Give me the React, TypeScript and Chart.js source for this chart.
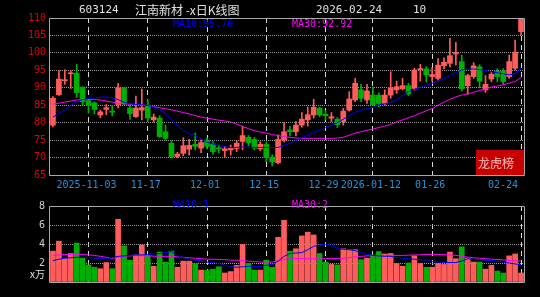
import React, { useEffect, useRef } from 'react';
import { Chart, registerables } from 'chart.js';

Chart.register(...registerables);

const dates: string[] = [
  '2025-10-24', '2025-10-27', '2025-10-28', '2025-10-29', '2025-10-30', '2025-10-31',
  '2025-11-03', '2025-11-04', '2025-11-05', '2025-11-06', '2025-11-07',
  '2025-11-10', '2025-11-11', '2025-11-12', '2025-11-13', '2025-11-14',
  '2025-11-17', '2025-11-18', '2025-11-19', '2025-11-20', '2025-11-21',
  '2025-11-24', '2025-11-25', '2025-11-26', '2025-11-27', '2025-11-28',
  '2025-12-01', '2025-12-02', '2025-12-03', '2025-12-04', '2025-12-05',
  '2025-12-08', '2025-12-09', '2025-12-10', '2025-12-11', '2025-12-12',
  '2025-12-15', '2025-12-16', '2025-12-17', '2025-12-18', '2025-12-19',
  '2025-12-22', '2025-12-23', '2025-12-24', '2025-12-25', '2025-12-26',
  '2025-12-29', '2025-12-30', '2025-12-31',
  '2026-01-05', '2026-01-06', '2026-01-07', '2026-01-08', '2026-01-09',
  '2026-01-12', '2026-01-13', '2026-01-14', '2026-01-15', '2026-01-16',
  '2026-01-19', '2026-01-20', '2026-01-21', '2026-01-22', '2026-01-23',
  '2026-01-26', '2026-01-27', '2026-01-28', '2026-01-29', '2026-01-30',
  '2026-02-02', '2026-02-03', '2026-02-04', '2026-02-05', '2026-02-06',
  '2026-02-09', '2026-02-10', '2026-02-11', '2026-02-12', '2026-02-13',
  '2026-02-24',
];

const open: number[] = [
  79.3, 88.0, 92.0, 94.0, 94.2, 90.1, 86.3, 85.7, 82.2, 83.8,
  83.3, 85.2, 90.0, 84.2, 81.7, 83.6, 85.0, 80.8, 81.3, 77.4,
  74.1, 70.3, 71.2, 72.4, 73.8, 72.7, 75.0, 73.9, 72.8, 72.0,
  72.2, 72.6, 74.6, 75.8, 75.2, 72.5, 73.8, 70.1, 68.5, 75.0,
  77.9, 77.4, 79.3, 80.8, 82.2, 84.1, 82.4, 81.3, 81.0, 80.3,
  83.6, 86.5, 89.4, 86.5, 87.9, 87.9, 85.5, 87.9, 89.4, 89.7,
  90.6, 89.8, 95.2, 95.4, 93.2, 92.7, 96.3, 97.0, 99.7, 97.5,
  90.6, 93.2, 96.0, 89.4, 92.5, 94.7, 94.8, 93.2, 95.6, 106.1,
];
const high: number[] = [
  87.5, 95.0, 95.2, 95.0, 96.7, 90.3, 86.5, 86.0, 83.6, 85.2,
  85.0, 91.3, 90.0, 85.5, 87.6, 89.6, 86.5, 82.5, 82.0, 79.3,
  74.8, 71.5, 75.7, 75.2, 77.0, 75.1, 75.6, 74.6, 73.6, 73.2,
  73.6, 74.8, 79.0, 76.3, 75.8, 74.5, 74.5, 70.8, 76.5, 80.0,
  78.9, 80.3, 82.9, 84.5, 86.7, 84.4, 83.5, 82.9, 81.5, 84.1,
  88.9, 92.7, 91.0, 91.0, 90.3, 88.5, 89.4, 94.6, 91.9, 92.7,
  91.3, 95.6, 96.7, 96.1, 95.8, 98.4, 98.6, 104.2, 103.0, 99.4,
  93.9, 97.2, 96.6, 93.5, 94.4, 95.5, 95.5, 99.4, 103.7, 110.22,
];
const low: number[] = [
  78.8, 87.8, 91.0, 89.8, 87.2, 85.0, 82.7, 82.5, 81.4, 82.3,
  82.0, 84.2, 85.2, 80.9, 81.5, 80.8, 80.3, 80.2, 75.8, 75.0,
  70.0, 70.0, 70.5, 70.7, 72.2, 71.4, 72.5, 71.0, 71.3, 70.1,
  70.7, 71.7, 72.2, 73.4, 72.2, 72.0, 68.8, 67.6, 68.2, 74.5,
  76.2, 76.2, 78.7, 79.0, 81.3, 81.7, 80.8, 80.3, 78.6, 79.3,
  83.3, 86.0, 86.0, 85.5, 84.9, 84.6, 84.9, 87.0, 88.4, 89.4,
  87.8, 89.3, 91.9, 91.7, 91.8, 92.2, 95.4, 96.0, 96.5, 89.1,
  88.1, 92.7, 90.0, 88.7, 91.7, 91.7, 91.0, 92.7, 95.1, 105.1,
];
const close: number[] = [
  87.0, 92.5, 92.3, 94.3, 88.6, 86.0, 85.0, 83.8, 83.1, 84.3,
  83.0, 90.0, 85.4, 82.6, 84.2, 84.3, 81.3, 81.6, 76.0, 75.5,
  70.1, 71.0, 73.4, 73.5, 73.2, 74.3, 73.2, 71.7, 72.5, 72.5,
  72.6, 74.1, 76.3, 74.3, 72.7, 73.8, 70.0, 68.8, 75.2, 77.4,
  77.4, 79.3, 81.0, 82.3, 84.4, 82.2, 82.0, 81.7, 79.4, 83.3,
  86.8, 91.3, 87.0, 89.1, 85.1, 85.5, 87.9, 90.0, 90.3, 90.6,
  88.2, 95.1, 95.5, 93.7, 93.8, 96.5, 97.3, 99.2, 100.1, 89.7,
  93.5, 96.3, 91.9, 91.0, 93.9, 93.2, 91.8, 97.5, 100.2, 110.22,
];

const ma10: number[] = [
  81.6, 82.6, 83.6, 84.9, 86.0, 86.6, 86.9, 87.0, 87.3, 87.4,
  87.1, 86.6, 85.8, 85.4, 85.2, 85.1, 84.9, 84.5, 83.6, 82.5,
  81.0, 79.3, 77.8, 76.8, 76.3, 75.3, 74.4, 73.9, 73.4, 73.1,
  72.9, 72.9, 73.0, 73.0, 72.9, 72.9, 72.9, 72.9, 72.9, 73.5,
  74.1, 74.9, 75.7, 76.5, 77.2, 77.9, 78.6, 79.3, 80.0, 81.0,
  82.0, 83.0, 83.6, 84.0, 84.4, 85.1, 85.4, 85.9, 86.5, 87.8,
  88.9, 89.6, 90.1, 90.6, 91.3, 91.9, 92.6, 93.5, 94.4, 95.1,
  95.3, 95.4, 95.2, 94.9, 94.6, 94.3, 94.0, 93.7, 94.0, 95.70,
];
const ma30: number[] = [
  85.3, 85.6, 85.9, 86.2, 86.5, 86.6, 86.6, 86.6, 86.5, 86.2,
  85.9, 85.6, 85.4, 85.3, 85.2, 85.1, 84.9, 84.6, 84.3, 84.0,
  83.7, 83.3, 82.9, 82.5, 82.0, 81.6, 81.3, 81.0, 80.7, 80.5,
  80.2, 79.6, 78.9, 78.3, 77.7, 77.3, 77.0, 76.6, 76.3, 76.0,
  75.8, 75.6, 75.5, 75.5, 75.5, 75.5, 75.5, 75.5, 75.6, 75.8,
  76.4, 77.0, 77.4, 77.8, 78.2, 78.6, 79.0, 79.5, 80.2, 80.8,
  81.4, 82.0, 82.7, 83.4, 84.0, 85.0, 85.9, 86.7, 87.4, 87.9,
  88.3, 88.7, 89.2, 89.7, 90.2, 90.5, 90.9, 91.3, 91.8, 92.92,
];

const volume: number[] = [
  3.25, 4.3, 2.5, 3.0, 4.1, 2.5, 1.8, 1.55, 1.4, 2.05,
  1.4, 6.6, 3.8, 2.3, 2.85, 3.9, 2.75, 1.65, 3.15, 2.1,
  3.25, 1.55, 2.2, 2.2, 1.95, 1.25, 1.25, 1.35, 1.6, 0.95,
  1.1, 1.75, 3.95, 1.95, 1.25, 1.25, 2.3, 1.55, 4.7, 6.5,
  3.25, 3.5, 4.85, 5.25, 4.95, 3.0, 2.1, 1.85, 1.8, 3.5,
  3.4, 3.4, 2.35, 2.5, 2.85, 3.2, 2.95, 3.0, 1.95, 1.65,
  2.0, 2.75, 1.95, 1.55, 1.55, 1.95, 1.85, 3.15, 2.45, 3.7,
  2.5, 2.1, 2.1, 1.35, 1.75, 1.15, 0.95, 2.75, 2.95, 0.95,
];
const volMa10: number[] = [
  2.25, 2.4, 2.5, 2.55, 2.6, 2.6, 2.55, 2.5, 2.45, 2.45,
  2.55, 2.7, 2.75, 2.8, 2.85, 2.85, 2.9, 2.95, 3.0, 3.1,
  3.2, 2.75, 2.55, 2.4, 2.3, 2.2, 2.1, 2.05, 1.95, 1.8,
  1.6, 1.55, 1.6, 1.65, 1.65, 1.65, 1.75, 1.85, 2.2, 2.7,
  3.0, 3.05, 3.1, 3.4, 3.75, 3.9, 3.95, 4.0, 3.5, 3.45,
  3.4, 3.3, 3.1, 2.9, 2.8, 2.75, 2.7, 2.7, 2.6, 2.5,
  2.45, 2.4, 2.35, 2.3, 2.15, 2.1, 2.05, 2.05, 2.05, 2.2,
  2.45, 2.4, 2.35, 2.3, 2.25, 2.2, 2.1, 2.0, 1.9, 1.8,
];
const volMa30: number[] = [
  2.8, 2.85, 2.9, 2.9, 2.9, 2.9, 2.85, 2.8, 2.7, 2.6,
  2.45, 2.65, 2.7, 2.75, 2.77, 2.77, 2.75, 2.72, 2.7, 2.7,
  2.7, 2.65, 2.6, 2.55, 2.5, 2.45, 2.4, 2.4, 2.38, 2.35,
  2.3, 2.3, 2.25, 2.2, 2.15, 2.1, 2.1, 2.1, 2.2, 2.35,
  2.5, 2.48, 2.46, 2.45, 2.45, 2.45, 2.45, 2.46, 2.48, 2.5,
  2.55, 2.65, 2.7, 2.75, 2.75, 2.77, 2.78, 2.8, 2.8, 2.8,
  2.82, 2.85, 2.87, 2.9, 2.9, 2.9, 2.88, 2.85, 2.8, 2.7,
  2.62, 2.55, 2.5, 2.45, 2.4, 2.38, 2.32, 2.27, 2.22, 2.2,
];

const xTickDates: string[] = [
  '2025-11-03', '2025-11-17', '2025-12-01', '2025-12-15',
  '2025-12-29', '2026-01-12', '2026-01-26', '2026-02-24',
];
const xTickLabels: string[] = [
  '2025-11-03', '11-17', '12-01', '12-15', '12-29', '2026-01-12', '01-26', '02-24',
];

const stockCode = '603124';
const stockName = '江南新材 -x日K线图';
const currentDate = '2026-02-24';
const period = '10';
const priceMaLabels: string[] = ['MA10:95.70', 'MA30:92.92'];
const volMaLabels: string[] = ['MA10:1', 'MA30:2'];
const volUnit = 'x万';
const badgeText = '龙虎榜';

const UP = '#ff5c5c';
const DOWN = '#00b000';
const MONO = "'DejaVu Sans Mono', monospace";
const CJK = "'Noto Sans CJK SC', 'DejaVu Sans Mono', sans-serif";

const tickIdx = xTickDates.map((d) => dates.indexOf(d));
const candleColor = dates.map((_, i) => (close[i] >= open[i] ? UP : DOWN));

function xAxisOptions() {
  return {
    type: 'category' as const,
    offset: true,
    grid: {
      offset: false,
      drawTicks: false,
      lineWidth: 1,
      color: (c: any) => (tickIdx.includes(c.index) ? '#d8d8d8' : 'rgba(0,0,0,0)'),
    },
    border: { display: false, dash: [5, 4] },
    ticks: { display: false, autoSkip: false },
  };
}

const framePlugin = {
  id: 'frame',
  afterDraw(chart: any) {
    const { ctx, chartArea: a } = chart;
    ctx.save();
    ctx.strokeStyle = '#a8a8a8';
    ctx.lineWidth = 1;
    ctx.beginPath();
    ctx.moveTo(a.left - 0.5, a.bottom + 0.5);
    ctx.lineTo(a.left - 0.5, a.top + 0.5);
    ctx.lineTo(a.right + 0.5, a.top + 0.5);
    ctx.lineTo(a.right + 0.5, a.bottom + 0.5);
    ctx.lineTo(a.left - 0.5, a.bottom + 0.5);
    ctx.stroke();
    ctx.restore();
  },
};

const priceTextPlugin = {
  id: 'priceText',
  afterDraw(chart: any) {
    const { ctx } = chart;
    const xs = chart.scales.x;
    ctx.save();
    ctx.textBaseline = 'middle';
    ctx.textAlign = 'left';
    // title
    ctx.fillStyle = '#e0e0e0';
    ctx.font = `11px ${MONO}`;
    ctx.fillText(stockCode, 79, 10);
    ctx.font = `12px ${CJK}`;
    ctx.fillText(stockName, 135, 10);
    ctx.font = `11px ${MONO}`;
    ctx.fillText(currentDate, 316, 10);
    ctx.fillText(period, 413, 10);
    // MA labels
    ctx.font = `10px ${MONO}`;
    ctx.fillStyle = '#0000ff';
    ctx.fillText(priceMaLabels[0], 173, 24);
    ctx.fillStyle = '#ff00ff';
    ctx.fillText(priceMaLabels[1], 292, 24);
    // x labels
    ctx.fillStyle = '#2a8fd8';
    ctx.font = `10px ${MONO}`;
    xTickLabels.forEach((lab, k) => {
      const px = xs.getPixelForValue(tickIdx[k]);
      if (k === xTickLabels.length - 1) {
        ctx.textAlign = 'right';
        ctx.fillText(lab, px - 3, 185);
      } else {
        ctx.textAlign = 'center';
        ctx.fillText(lab, px - 2, 185);
      }
    });
    // badge
    const a = chart.chartArea;
    ctx.fillStyle = '#c80000';
    ctx.fillRect(a.right - 48, a.bottom - 25, 48, 25);
    ctx.fillStyle = '#f2c0c0';
    ctx.textAlign = 'left';
    ctx.font = `12px ${CJK}`;
    ctx.fillText(badgeText, a.right - 46, a.bottom - 12);
    ctx.restore();
  },
};

const volTextPlugin = {
  id: 'volText',
  afterDraw(chart: any) {
    const { ctx } = chart;
    const ys = chart.scales.y;
    ctx.save();
    ctx.textBaseline = 'middle';
    ctx.textAlign = 'left';
    ctx.font = `10px ${MONO}`;
    ctx.fillStyle = '#0000ff';
    ctx.fillText(volMaLabels[0], 173, 10);
    ctx.fillStyle = '#ff00ff';
    ctx.fillText(volMaLabels[1], 292, 10);
    ctx.fillStyle = '#e0e0e0';
    ctx.textAlign = 'right';
    ctx.font = `10px ${CJK}`;
    ctx.fillText(volUnit, 45, ys.getPixelForValue(0) - 8);
    ctx.restore();
  },
};

export default function App() {
  const topRef = useRef<HTMLCanvasElement>(null);
  const botRef = useRef<HTMLCanvasElement>(null);

  useEffect(() => {
    document.body.style.margin = '0';
    document.body.style.background = '#000';
    Chart.defaults.font.family = MONO;

    const top = new Chart(topRef.current as HTMLCanvasElement, {
      type: 'bar',
      data: {
        labels: dates,
        datasets: [
          {
            type: 'line', label: 'MA10', data: ma10, borderColor: '#0000ff',
            borderWidth: 1, pointRadius: 0, order: 0,
          } as any,
          {
            type: 'line', label: 'MA30', data: ma30, borderColor: '#ff00ff',
            borderWidth: 1, pointRadius: 0, order: 0,
          } as any,
          {
            type: 'bar', label: 'body', data: dates.map((_, i) => [open[i], close[i]]),
            backgroundColor: candleColor, borderWidth: 0, barThickness: 5,
            grouped: false, minBarLength: 1, order: 1,
          } as any,
          {
            type: 'bar', label: 'wick', data: dates.map((_, i) => [low[i], high[i]]),
            backgroundColor: candleColor, borderWidth: 0, barThickness: 1,
            grouped: false, minBarLength: 1, order: 2,
          } as any,
        ],
      },
      options: {
        responsive: false,
        animation: false,
        devicePixelRatio: 1,
        layout: { padding: { top: 18, right: 16, bottom: 20, left: 0 } },
        plugins: { legend: { display: false }, tooltip: { enabled: false } },
        scales: {
          x: xAxisOptions() as any,
          y: {
            min: 65, max: 110,
            afterFit: (s: any) => { s.width = 50; },
            ticks: { stepSize: 5, color: '#e00000', font: { size: 10, family: MONO }, padding: 4 },
            grid: { color: '#9a9a9a', drawTicks: false },
            border: { display: false, dash: [1, 1] },
          },
        },
      },
      plugins: [framePlugin, priceTextPlugin],
    });

    const bot = new Chart(botRef.current as HTMLCanvasElement, {
      type: 'bar',
      data: {
        labels: dates,
        datasets: [
          {
            type: 'line', label: 'MA10', data: volMa10, borderColor: '#0000ff',
            borderWidth: 1, pointRadius: 0, order: 0,
          } as any,
          {
            type: 'line', label: 'MA30', data: volMa30, borderColor: '#ff00ff',
            borderWidth: 1, pointRadius: 0, order: 0,
          } as any,
          {
            type: 'bar', label: 'volume', data: volume,
            backgroundColor: candleColor, borderWidth: 0, barThickness: 5,
            grouped: false, order: 1,
          } as any,
        ],
      },
      options: {
        responsive: false,
        animation: false,
        devicePixelRatio: 1,
        layout: { padding: { top: 4, right: 16, bottom: 15, left: 0 } },
        plugins: { legend: { display: false }, tooltip: { enabled: false } },
        scales: {
          x: xAxisOptions() as any,
          y: {
            min: 0, max: 8,
            afterFit: (s: any) => { s.width = 50; },
            ticks: {
              stepSize: 2, color: '#d0d0d0', font: { size: 10, family: MONO }, padding: 5,
              callback: (v: any) => (v === 0 ? '' : String(v)),
            },
            grid: { color: '#9a9a9a', drawTicks: false },
            border: { display: false, dash: [1, 1] },
          },
        },
      },
      plugins: [framePlugin, volTextPlugin],
    });

    return () => {
      top.destroy();
      bot.destroy();
    };
  }, []);

  return (
    <div style={{ position: 'fixed', left: 0, top: 0, width: 540, height: 297, background: '#000' }}>
      <canvas ref={topRef} width={540} height={195} style={{ position: 'absolute', left: 0, top: 0 }} />
      <canvas ref={botRef} width={540} height={102} style={{ position: 'absolute', left: 0, top: 195 }} />
    </div>
  );
}
